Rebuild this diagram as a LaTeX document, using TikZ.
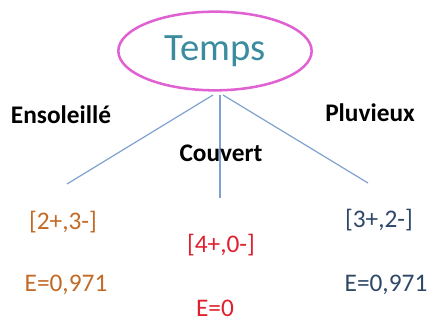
\documentclass[tikz,border=0pt]{standalone}
\usepackage{fontspec}
\setmainfont{Carlito}
\usetikzlibrary{shapes.geometric}

\definecolor{bordeau}{HTML}{E062D2}
\definecolor{sarcelle}{HTML}{3A8C9E}
\definecolor{branche}{HTML}{7FA1CF}
\definecolor{orange}{HTML}{C26A26}
\definecolor{rouge}{HTML}{E0202E}
\definecolor{ardoise}{HTML}{2E4766}

\tikzset{
	attribut/.style = {ellipse, draw = bordeau, line width = 1.9pt, minimum width = 145pt, minimum height = 59pt, inner sep = 0pt, text = sarcelle, font = \fontsize{29}{32}\selectfont},
	valeur/.style = {font = \bfseries\fontsize{19}{22}\selectfont},
	compte/.style = {inner sep = 0pt, font = \fontsize{19}{22}\selectfont},
	branche/.style = {draw = branche, line width = 0.9pt}
}

\begin{document}
\begin{tikzpicture} [x = 0.75pt, y = -0.75pt]
	\useasboundingbox (0,0) rectangle (434,324);
	% racine
	\node [attribut] (temps) at (215,51) {Temps};
	\coordinate (r1) at (213,95);
	\coordinate (r2) at (220,95);
	\coordinate (r3) at (223,95);
	\coordinate (f1) at (67,184);
	\coordinate (f2) at (220,198);
	\coordinate (f3) at (368,183);
	\draw [branche] (r1) -- (f1);
	\draw [branche] (r2) -- (f2);
	\draw [branche] (r3) -- (f3);
	% valeurs de l'attribut
	\node [valeur] (ens) at (61,115) {Ensoleillé};
	\node [valeur] (cou) at (221,153) {Couvert};
	\node [valeur] (plu) at (370,113) {Pluvieux};
	% exemples et entropie
	\node [compte, text = orange] (ex1) at (63,222) {[2+,3-]};
	\node [compte, text = orange] (e1) at (66,285) {E=0,971};
	\node [compte, text = rouge] (ex2) at (221,245) {[4+,0-]};
	\node [compte, text = rouge] (e2) at (215,308) {E=0};
	\node [compte, text = ardoise] (ex3) at (379,220) {[3+,2-]};
	\node [compte, text = ardoise] (e3) at (386,285) {E=0,971};
\end{tikzpicture}
\end{document}
